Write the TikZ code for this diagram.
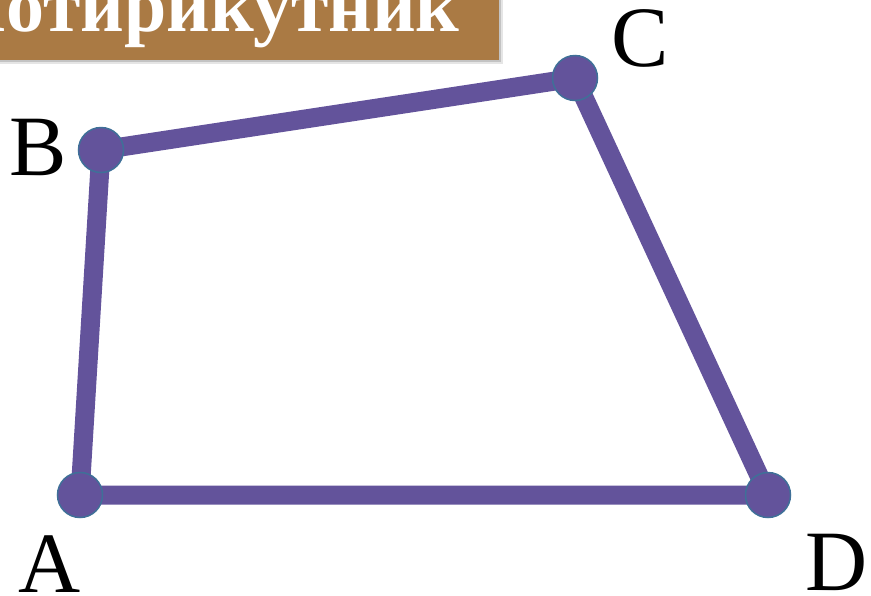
\documentclass[tikz,border=0pt]{standalone}
\usepackage{fontspec}
\setmainfont{Liberation Serif}
\begin{document}
\begin{tikzpicture}[x=1pt,y=-1pt,
  edge/.style={draw=quadpurple,line width=19pt},
  vertex/.style={circle,fill=quadpurple,draw=dotrim,line width=1.5pt,minimum size=45pt,inner sep=0pt},
  lbl/.style={anchor=base,inner sep=0pt,font=\fontsize{86}{90}\selectfont},
]
\definecolor{quadpurple}{HTML}{63539B}
\definecolor{dotrim}{HTML}{3F7098}
\definecolor{banner}{HTML}{AA7A44}
\useasboundingbox (0,0) rectangle (871,595);
% banner shadow and box
\fill[black,opacity=0.10] (-10,-10) rectangle (503,64);
\fill[black,opacity=0.15] (-10,-10) rectangle (501,62);
\fill[banner] (-10,-10) rectangle (499,60);
\begin{scope}
\clip (0,0) rectangle (499,60);
\node[anchor=base east,inner sep=0pt,text=white,font=\bfseries\fontsize{76}{80}\selectfont] (title) at (460,31) {Чотирикутник};
\end{scope}
% vertices
\coordinate (pA) at (80,495);
\coordinate (pB) at (101,150);
\coordinate (pC) at (575,78);
\coordinate (pD) at (768,495);
\draw[edge,line join=round] (pA) -- (pB) -- (pC) -- (pD) -- cycle;
\node[vertex] (vA) at (pA) {};
\node[vertex] (vB) at (pB) {};
\node[vertex] (vC) at (pC) {};
\node[vertex] (vD) at (pD) {};
% labels
\node[lbl] (lA) at (50,592) {A};
\node[lbl] (lB) at (38.5,175) {B};
\node[lbl] (lC) at (640,66) {C};
\node[lbl] (lD) at (837,590) {D};
\end{tikzpicture}
\end{document}
